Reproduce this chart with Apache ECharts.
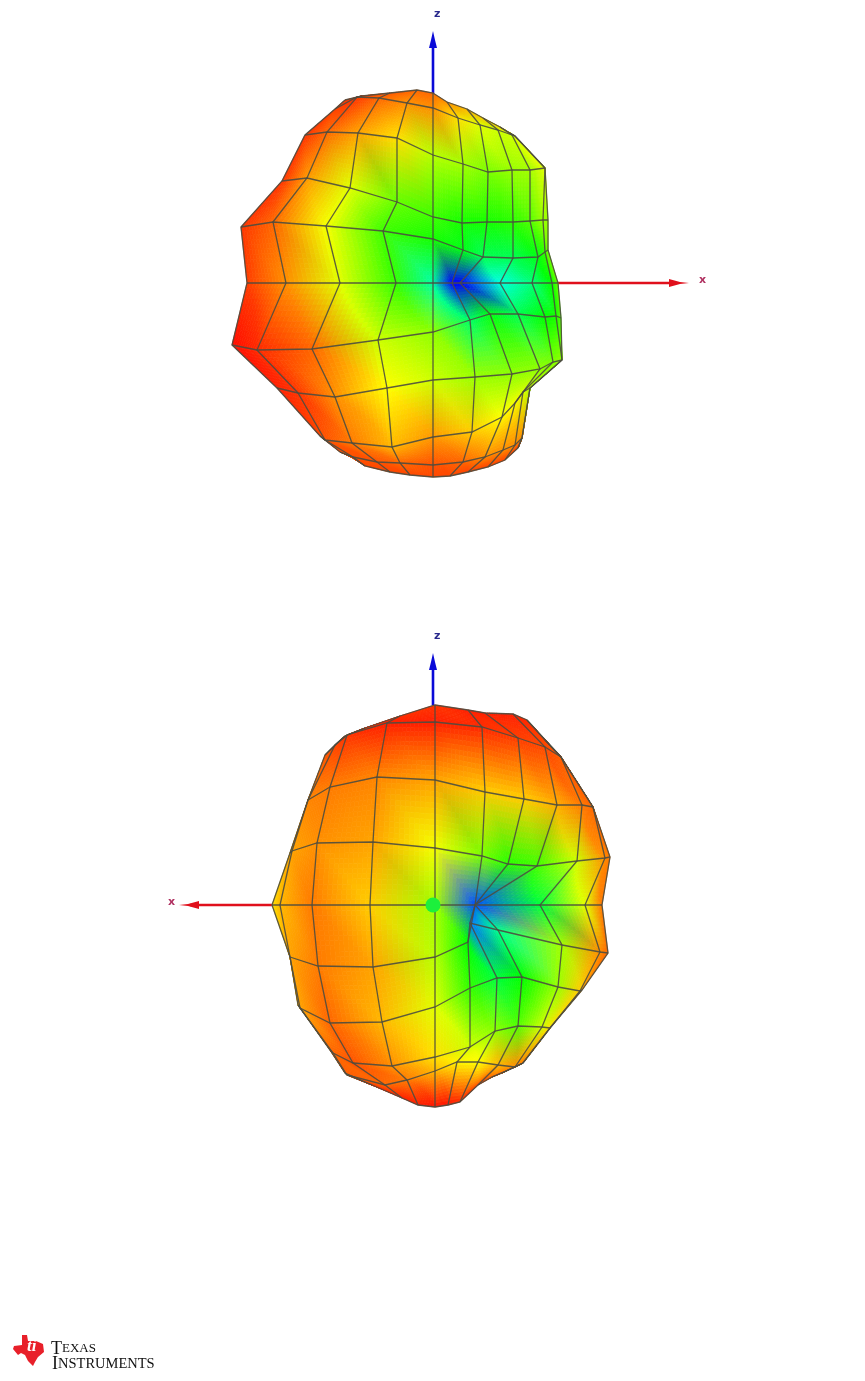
<!DOCTYPE html>
<html><head><meta charset="utf-8">
<style>html,body{margin:0;padding:0;background:#fff}#c{width:865px;height:1381px}</style>
<script src="https://cdn.jsdelivr.net/npm/echarts@6/dist/echarts.min.js"></script>
</head><body><div id="c"></div>
<script>
// Upper view: projected mesh vertices (rows top to bottom, columns left to right)
const upperX = [
 [345,362,390,417,433,447,467,483,500,510,510],
 [335,357,379,407,433,458,480,498,512,515,515],
 [305,327,358,397,433,463,488,512,530,545,545],
 [282,307,350,397,433,462,487,513,530,543,548],
 [241,273,326,383,433,463,483,513,538,545,548],
 [247,286,340,396,433,452,460,500,532,552,558],
 [232,257,312,378,433,470,490,518,545,556,561],
 [277,298,335,387,433,475,512,540,553,562,562],
 [320,325,352,392,433,472,502,515,523,530,530],
 [340,353,377,400,433,463,485,503,515,522,522],
 [352,365,390,410,433,450,468,488,505,518,518]];
const upperY = [
 [100,96,93,90,93,102,109,118,127,133,133],
 [109,97,98,103,108,118,125,130,135,136,136],
 [135,132,133,138,155,164,172,170,170,168,168],
 [181,178,188,202,217,223,222,222,221,220,220],
 [227,222,226,231,239,250,257,258,257,252,250],
 [283,283,283,283,283,283,283,283,283,283,283],
 [345,350,349,340,332,320,314,314,317,316,318],
 [388,393,397,388,380,377,374,369,362,360,360],
 [436,440,443,447,437,432,417,403,392,388,388],
 [452,457,462,463,465,462,457,450,445,438,438],
 [457,466,472,475,477,476,472,467,460,448,448]];
const upperLevel = [
 [6,6,8,10,10,14,18,20,22,24,24],
 [6,5,10,14,14,22,28,30,30,28,28],
 [5,10,16,22,32,34,38,35,34,28,28],
 [5,15,28,40,44,48,48,46,42,35,35],
 [5,10,26,44,48,52,58,58,52,45,38],
 [6,14,28,45,66,100,100,72,62,50,40],
 [1,4,10,30,36,60,52,58,50,48,42],
 [3,5,14,25,30,35,36,36,38,36,36],
 [6,8,12,18,15,20,25,25,28,32,32],
 [8,8,8,10,8,10,14,14,14,14,14],
 [7,7,7,7,7,7,7,7,7,7,7]];

// Lower view
const lowerX = [
 [330,345,365,400,435,468,485,513,527,545,561],
 [325,335,347,387,435,482,518,545,561,561,561],
 [308,308,330,377,435,485,524,557,582,593,593],
 [290,292,317,373,435,482,508,537,577,605,610],
 [272,280,312,370,435,475,475,475,540,585,602],
 [290,290,318,373,435,468,470,498,562,600,608],
 [298,300,330,382,435,470,497,522,558,580,582],
 [330,333,353,392,435,470,495,518,542,550,550],
 [345,347,385,407,435,457,478,498,515,523,523],
 [372,372,402,418,435,448,460,478,492,502,502]];
const lowerY = [
 [750,736,728,716,705,710,713,714,720,740,757],
 [755,745,735,723,722,727,738,747,757,757,757],
 [800,800,787,777,780,792,799,805,805,807,807],
 [853,851,843,842,848,856,864,866,861,858,857],
 [905,905,905,905,905,905,905,905,905,905,905],
 [957,957,966,967,957,942,923,930,945,952,953],
 [1005,1008,1023,1022,1007,988,978,977,987,991,990],
 [1050,1053,1063,1066,1057,1047,1031,1026,1027,1028,1028],
 [1073,1075,1085,1080,1071,1062,1062,1065,1067,1063,1063],
 [1085,1085,1098,1105,1107,1105,1102,1085,1077,1073,1073]];
const lowerLevel = [
 [10,8,6,5,5,3,3,3,4,6,6],
 [9,7,5,3,3,4,6,7,9,9,9],
 [14,13,12,13,16,20,20,17,12,10,10],
 [18,16,14,16,26,38,46,44,30,14,12],
 [22,18,12,20,34,92,92,92,56,28,12],
 [18,16,12,16,32,50,88,64,34,14,10],
 [18,16,10,18,28,45,56,50,35,20,15],
 [10,10,8,14,22,30,36,42,30,22,20],
 [10,9,10,12,18,24,25,18,14,12,12],
 [7,5,3,3,2,2,4,6,10,10,10]];

// Coordinate axes: line ends
const zAxisUpper = [[433,93],[433,40]];
const xAxisUpper = [[550,283],[676,283]];
const zAxisLower = [[433,705],[433,662]];
const xAxisLower = [[272,905],[190,905]];
const originLower = [[433,905]];
const axisTips = [
 {color:'#0a0ad8',pts:[[433,31],[435,40],[437,48],[429,48],[431,40]]},
 {color:'#0a0ad8',pts:[[433,653],[435,662],[437,670],[429,670],[431,662]]},
 {color:'#e0101c',pts:[[689,283],[680,284],[669,287],[669,279],[680,282]]},
 {color:'#e0101c',pts:[[179,905],[188,904],[199,901],[199,909],[188,906]]}];

const stops=[[255,0,0],[255,255,0],[0,255,0],[0,255,255],[0,0,255]];
function rgb(l){
  const t=Math.min(3.9999,Math.max(0,l/25)),i=Math.floor(t),f=t-i;
  return stops[i].map((s,k)=>s+(stops[i+1][k]-s)*f);
}
const SUB=12;
function meshSeries(X,Y,L,z){
  const cells=[];
  for(let r=0;r<X.length-1;r++)for(let c=0;c<X[0].length-1;c++)cells.push([r,c]);
  const lines=[];
  X.forEach((_,r)=>lines.push(['r',r]));
  X[0].forEach((_,c)=>lines.push(['c',c]));
  return [{
    type:'custom',coordinateSystem:'cartesian2d',z:z,silent:true,animation:false,clip:false,
    encode:{x:[],y:[]},
    data:cells,
    renderItem(p,api){
      const r=api.value(0),c=api.value(1);
      const P=[[r,c],[r,c+1],[r+1,c+1],[r+1,c]].map(([a,b])=>api.coord([X[a][b],Y[a][b]]));
      const C=[[r,c],[r,c+1],[r+1,c+1],[r+1,c]].map(([a,b])=>rgb(L[a][b]));
      const at=(u,v)=>[0,1].map(k=>(1-v)*((1-u)*P[0][k]+u*P[1][k])+v*((1-u)*P[3][k]+u*P[2][k]));
      const col=(u,v)=>[0,1,2].map(k=>u>=v
        ? C[0][k]+u*(C[1][k]-C[0][k])+v*(C[2][k]-C[1][k])
        : C[0][k]+v*(C[3][k]-C[0][k])+u*(C[2][k]-C[3][k]));
      const children=[];
      for(let i=0;i<SUB;i++)for(let j=0;j<SUB;j++){
        const u0=i/SUB,u1=(i+1)/SUB,v0=j/SUB,v1=(j+1)/SUB;
        const cc=col((u0+u1)/2,(v0+v1)/2).map(Math.round);
        const f='rgb('+cc.join(',')+')';
        children.push({type:'polygon',silent:true,
          shape:{points:[at(u0,v0),at(u1,v0),at(u1,v1),at(u0,v1)]},
          style:{fill:f,stroke:f,lineWidth:0.7}});
      }
      return {type:'group',children};
    }
  },{
    type:'custom',coordinateSystem:'cartesian2d',z:z+1,silent:true,animation:false,clip:false,
    encode:{x:[],y:[]},
    data:lines.map(l=>[l[0]==='r'?0:1,l[1]]),
    renderItem(p,api){
      const isCol=api.value(0)===1,k=api.value(1);
      const pts=isCol?X.map((row,r)=>api.coord([X[r][k],Y[r][k]]))
                     :X[k].map((_,c)=>api.coord([X[k][c],Y[k][c]]));
      return {type:'polyline',silent:true,shape:{points:pts},
        style:{fill:null,stroke:'#4c4c40',lineWidth:1.3,opacity:0.9}};
    }
  }];
}
function axisLine(data,color){
  return {type:'line',data:data,symbol:'none',z:1,silent:true,animation:false,clip:false,
    lineStyle:{color:color,width:2.6}};
}
const chart=echarts.init(document.getElementById('c'),null,{renderer:'canvas'});
chart.setOption({
  animation:false,backgroundColor:'#fff',
  grid:{left:0,top:0,width:865,height:1381,containLabel:false},
  xAxis:{type:'value',min:0,max:865,show:false},
  yAxis:{type:'value',min:0,max:1381,inverse:true,show:false},
  tooltip:{show:false},
  series:[
    axisLine(zAxisUpper,'#0a0ad8'),axisLine(xAxisUpper,'#e0101c'),
    axisLine(zAxisLower,'#0a0ad8'),axisLine(xAxisLower,'#e0101c'),
    {type:'custom',coordinateSystem:'cartesian2d',z:2,silent:true,animation:false,clip:false,
     encode:{x:[],y:[]},data:axisTips.map((_,i)=>[i]),
     renderItem(p,api){const a=axisTips[api.value(0)];
       return {type:'polygon',silent:true,shape:{points:a.pts.map(q=>api.coord(q))},style:{fill:a.color}};}},
    ...meshSeries(upperX,upperY,upperLevel,3),
    ...meshSeries(lowerX,lowerY,lowerLevel,3),
    {type:'scatter',data:originLower,symbol:'circle',symbolSize:15,z:6,silent:true,animation:false,
     itemStyle:{color:'#1cf03c',opacity:1}}
  ],
  graphic:[
    {type:'text',left:434,top:9,style:{text:'z',fill:'#28288c',font:'bold 11px "DejaVu Sans"'}},
    {type:'text',left:434,top:631,style:{text:'z',fill:'#28288c',font:'bold 11px "DejaVu Sans"'}},
    {type:'text',left:699,top:275,style:{text:'x',fill:'#b03060',font:'bold 11px "DejaVu Sans"'}},
    {type:'text',left:168,top:897,style:{text:'x',fill:'#b03060',font:'bold 11px "DejaVu Sans"'}},
    {type:'polygon',shape:{points:[[22,1335],[27,1335],[28,1341],[36,1341],[43,1344],[44,1352],[38,1357],[35,1362],[33,1366],[28,1361],[25,1355],[21,1353],[18,1355],[13,1349],[14,1346],[22,1345]]},
      style:{fill:'#e8202a'}},
    {type:'text',left:27,top:1338,style:{text:'ti',fill:'#fff',font:'italic bold 17px "Liberation Serif"'}},
    {type:'text',left:51,top:1340,style:{text:'{a|T}{b|EXAS}',fill:'#111',
      rich:{a:{font:'18px "Liberation Serif"',fill:'#111'},b:{font:'13px "Liberation Serif"',fill:'#111'}}}},
    {type:'text',left:52,top:1355,style:{text:'{a|I}{b|NSTRUMENTS}',fill:'#111',
      rich:{a:{font:'18px "Liberation Serif"',fill:'#111'},b:{font:'14.5px "Liberation Serif"',fill:'#111'}}}}
  ]
});
</script></body></html>
